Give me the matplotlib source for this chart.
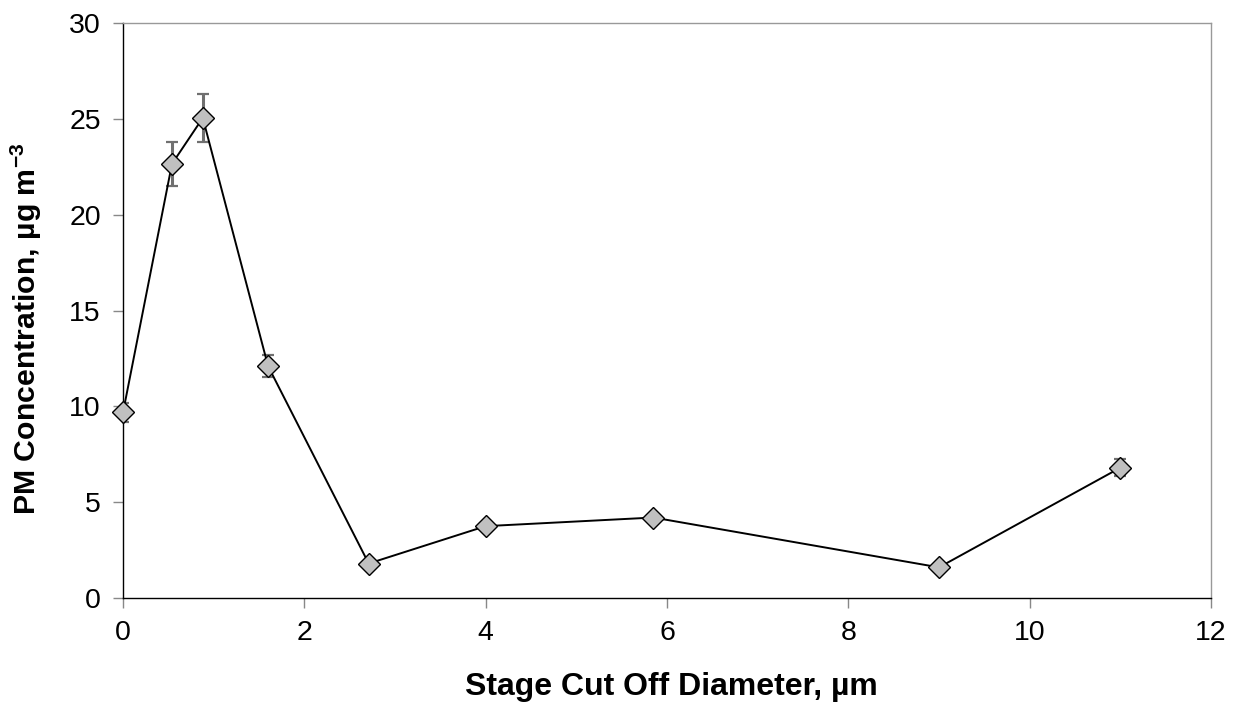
import matplotlib.pyplot as plt

plt.rcParams['font.family'] = ['Liberation Sans', 'DejaVu Sans']
plt.rcParams['mathtext.fontset'] = 'custom'
plt.rcParams['mathtext.rm'] = 'Liberation Sans'
plt.rcParams['mathtext.bf'] = 'Liberation Sans:bold'

# Stage cut off diameter (um) and PM concentration (ug m-3)
diameter = [0.0, 0.54, 0.88, 1.6, 2.71, 4.0, 5.85, 9.0, 11.0]
concentration = [9.68, 22.65, 25.05, 12.1, 1.8, 3.75, 4.2, 1.6, 6.8]
error = [0.5, 1.15, 1.25, 0.58, 0.1, 0.1, 0.1, 0.1, 0.45]

x_ticks = [0, 2, 4, 6, 8, 10, 12]
y_ticks = [0, 5, 10, 15, 20, 25, 30]

fig = plt.figure(figsize=(12.4, 7.15), dpi=100)
ax = fig.add_axes([0.0992, 0.1636, 0.8774, 0.8042])

ax.errorbar(diameter, concentration, yerr=error, fmt='none', ecolor='#707070',
            elinewidth=2.2, capsize=4, capthick=1.6, zorder=2)
ax.plot(diameter, concentration, color='black', linewidth=1.4, marker='D',
        markersize=11.5, markerfacecolor='#c0c0c0', markeredgecolor='black',
        markeredgewidth=1.0, zorder=3, clip_on=False)

ax.set_xlim(0, 12)
ax.set_ylim(0, 30)
ax.set_xticks(x_ticks)
ax.set_yticks(y_ticks)
ax.tick_params(axis='both', direction='out', length=7, width=1, color='#888888',
               labelsize=20.5)
ax.tick_params(axis='x', pad=9)
ax.tick_params(axis='y', pad=9)

ax.spines['left'].set_color('black')
ax.spines['bottom'].set_color('black')
ax.spines['top'].set_color('#999999')
ax.spines['right'].set_color('#999999')
for s in ax.spines.values():
    s.set_linewidth(1.0)

ax.set_xlabel('Stage Cut Off Diameter, \u00b5m', fontsize=23, fontweight='bold')
ax.set_ylabel('PM Concentration, \u00b5g m$^{\\mathbf{-3}}$', fontsize=21.8, fontweight='bold')
ax.xaxis.set_label_coords(0.504, -0.128)
ax.yaxis.set_label_coords(-0.073, 0.468)

fig.savefig('out.png', dpi=100)
